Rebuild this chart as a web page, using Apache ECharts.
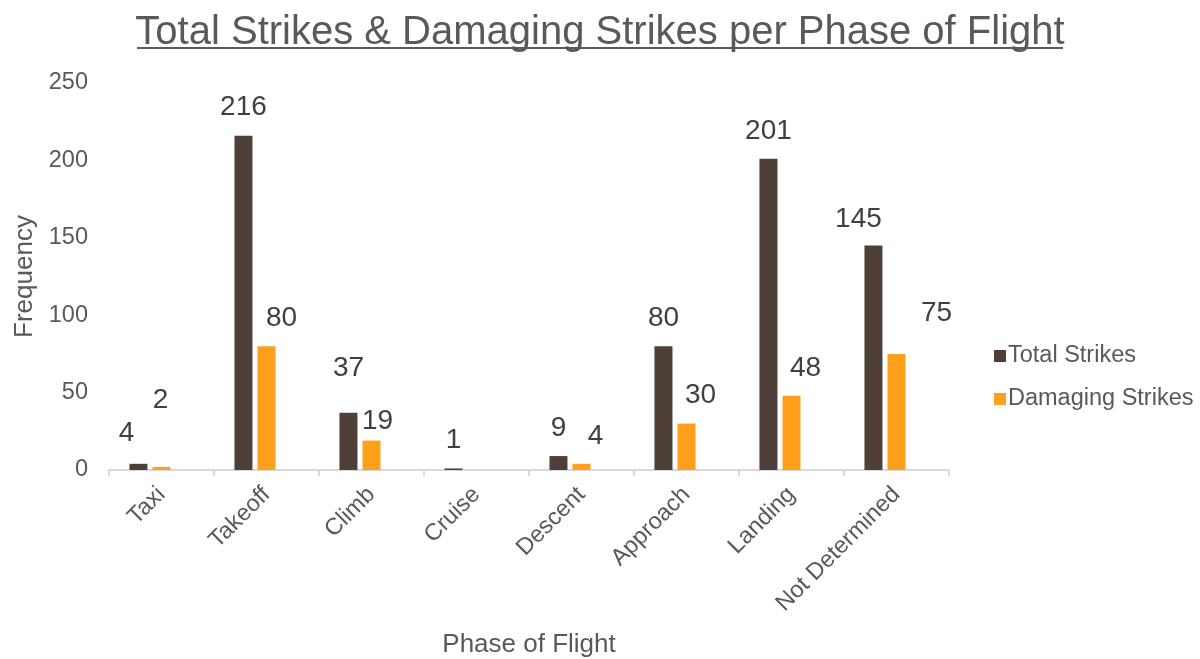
<!DOCTYPE html>
<html>
<head>
<meta charset="utf-8">
<title>Total Strikes & Damaging Strikes per Phase of Flight</title>
<script src="https://cdn.jsdelivr.net/npm/echarts@6/dist/echarts.min.js"></script>
<style>
  html, body { margin: 0; padding: 0; background: #fff; }
  #chart { width: 1200px; height: 659px; }
</style>
</head>
<body>
<div id="chart"></div>
<script>
// data
var phases = ['Taxi', 'Takeoff', 'Climb', 'Cruise', 'Descent', 'Approach', 'Landing', 'Not Determined'];
var totalStrikes = [4, 216, 37, 1, 9, 80, 201, 145];
var damagingStrikes = [2, 80, 19, 0, 4, 30, 48, 75];
var yTicks = [0, 50, 100, 150, 200, 250];

// label nudges (the labels in the original sit a bit off the bars)
var totalLabelOffsets = [[-12, -3], [0, 0], [0, -16], [0, 0], [0, 0], [0, 0], [0, 0], [-15, 2]];
var damagingLabelOffsets = [[-1, -39], [15, 0], [6, 9], [0, 0], [14, 0], [14, 0], [14, 1], [40, -13]];

var font = '"Liberation Sans", Arial, sans-serif';
var grey = '#595959';

function withLabels(values, offsets, hideZero) {
    return values.map(function (v, i) {
        return {
            value: v,
            label: { show: !(hideZero && v === 0), offset: offsets[i] }
        };
    });
}

var chart = echarts.init(document.getElementById('chart'));
chart.setOption({
    animation: false,
    textStyle: { fontFamily: font },
    title: {
        text: 'Total Strikes & Damaging Strikes per Phase of Flight',
        left: 'center',
        top: 8,
        textStyle: { fontFamily: font, fontSize: 40, fontWeight: 'normal', color: grey }
    },
    graphic: [{
        type: 'line',
        shape: { x1: 137, y1: 48, x2: 1063, y2: 48 },
        style: { stroke: grey, lineWidth: 2 }
    }],
    legend: {
        orient: 'vertical',
        left: 989,
        top: 339,
        icon: 'rect',
        itemWidth: 12,
        itemHeight: 12,
        itemGap: 19,
        data: ['Total Strikes', 'Damaging Strikes'],
        textStyle: { fontFamily: font, fontSize: 23.5, color: grey, padding: [0, 0, 0, -3] }
    },
    grid: { left: 109, right: 251, top: 83, bottom: 189, outerBoundsMode: 'none' },
    xAxis: {
        type: 'category',
        data: phases,
        name: 'Phase of Flight',
        nameLocation: 'middle',
        nameGap: 162,
        nameTextStyle: { fontFamily: font, fontSize: 26, color: grey },
        axisLine: { lineStyle: { color: '#d9d9d9', width: 2 } },
        axisTick: { show: true, length: 6, lineStyle: { color: '#d9d9d9', width: 2 } },
        axisLabel: { rotate: 45, margin: 21, fontSize: 23.5, color: grey, interval: 0 }
    },
    yAxis: {
        type: 'value',
        min: yTicks[0],
        max: yTicks[yTicks.length - 1],
        interval: yTicks[1] - yTicks[0],
        name: 'Frequency',
        nameLocation: 'middle',
        nameGap: 67,
        nameTextStyle: { fontFamily: font, fontSize: 26, color: grey },
        axisLine: { show: false },
        axisTick: { show: false },
        splitLine: { show: false },
        axisLabel: { margin: 21, fontSize: 23.5, color: grey }
    },
    series: [
        {
            name: 'Total Strikes',
            type: 'bar',
            barWidth: 18,
            barGap: '28%',
            itemStyle: { color: '#4E4038' },
            label: { show: true, position: 'top', distance: 14, fontSize: 28, color: '#404040' },
            data: withLabels(totalStrikes, totalLabelOffsets, false)
        },
        {
            name: 'Damaging Strikes',
            type: 'bar',
            barWidth: 18,
            barGap: '28%',
            itemStyle: { color: '#FF9F1C' },
            label: { show: true, position: 'top', distance: 14, fontSize: 28, color: '#404040' },
            data: withLabels(damagingStrikes, damagingLabelOffsets, true)
        },
        {
            // empty third slot, the original cluster leaves room for it
            name: 'spacer',
            type: 'bar',
            barWidth: 18,
            barGap: '28%',
            data: phases.map(function () { return null; })
        }
    ]
});
</script>
</body>
</html>
